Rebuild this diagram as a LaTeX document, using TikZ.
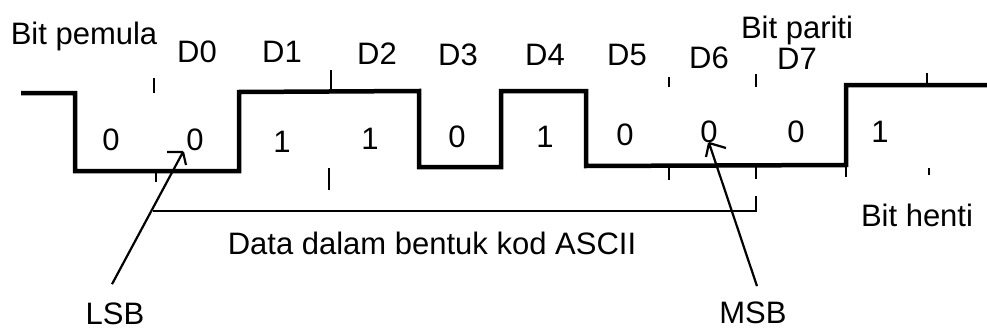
\documentclass[tikz,border=0pt]{standalone}
\usepackage{fontspec}
\setmainfont{Liberation Sans}
\tikzset{
  lbl/.style={anchor=base, inner sep=0pt, font=\fontsize{31}{37}\selectfont},
  wave/.style={line width=4.5pt, line join=miter},
  tick/.style={line width=2pt},
  bracket/.style={line width=1.5pt},
  ptr/.style={line width=2.2pt, line join=miter}
}
\begin{document}
\begin{tikzpicture}[x=1pt, y=-1pt]
  \useasboundingbox (0,0) rectangle (987,329);

  % serial waveform: start bit, D0..D7, parity bit, stop bit
  \draw[wave] (21,93) -- (75,93) -- (75,171) -- (239,171) -- (239,92)
    -- (419,91) -- (419,167) -- (501,167) -- (501,91) -- (586,91)
    -- (586,166) -- (846,165) -- (846,85) -- (987,85);

  % bit boundary ticks
  \draw[tick] (154,78) -- (154,93);
  \draw[tick] (156,171) -- (156,182);
  \draw[tick] (331,70) -- (331,91);
  \draw[tick] (329,168) -- (329,190);
  \draw[tick] (669,77) -- (669,87);
  \draw[tick] (669,166) -- (669,180);
  \draw[tick] (756,74) -- (756,87);
  \draw[tick] (756,166) -- (756,179);
  \draw[tick] (846,165) -- (846,177);
  \draw[tick] (927,73) -- (927,85);
  \draw[tick] (929,168) -- (929,175);

  % bracket under the data bits
  \coordinate (bl) at (153,211);
  \coordinate (br) at (756,211);
  \coordinate (brt) at (756,196);
  \draw[bracket] (bl) -- (br) -- (brt);

  % headings
  \node[lbl] (start) at (84,45) {Bit pemula};
  \node[lbl] (parity) at (797,39) {Bit pariti};
  \node[lbl] (d0) at (197,63) {D0};
  \node[lbl] (d1) at (282,63) {D1};
  \node[lbl] (d2) at (377,64) {D2};
  \node[lbl] (d3) at (458,65) {D3};
  \node[lbl] (d4) at (545,65) {D4};
  \node[lbl] (d5) at (627,65) {D5};
  \node[lbl] (d6) at (709,68) {D6};
  \node[lbl] (d7) at (797,70) {D7};

  % bit values
  \node[lbl] (b0) at (111,150) {0};
  \node[lbl] (b1) at (195,150) {0};
  \node[lbl] (b2) at (282,152) {1};
  \node[lbl] (b3) at (370,149) {1};
  \node[lbl] (b4) at (457,147) {0};
  \node[lbl] (b5) at (545,147) {1};
  \node[lbl] (b6) at (625,145) {0};
  \node[lbl] (b7) at (709,142) {0};
  \node[lbl] (b8) at (796,142) {0};
  \node[lbl] (b9) at (880,142) {1};

  % bottom labels
  \node[lbl] (data) at (432,254) {Data dalam bentuk kod ASCII};
  \node[lbl] (stop) at (917,226) {Bit henti};
  \node[lbl] (lsb) at (115,324) {LSB};
  \node[lbl] (msb) at (753,323) {MSB};

  % pointers to the least and most significant bits, with open barbs
  \coordinate (lsbtip) at (183,152);
  \coordinate (msbtip) at (709,143);
  \draw[ptr] ([xshift=-3pt, yshift=18pt]lsb.north) -- (lsbtip)
    (lsbtip) -- ++(-16,0) (lsbtip) -- ++(3,13);
  \draw[ptr] ([xshift=4pt, yshift=15pt]msb.north) -- (msbtip)
    (msbtip) -- ++(17,5) (msbtip) -- ++(-3,14);
\end{tikzpicture}
\end{document}
